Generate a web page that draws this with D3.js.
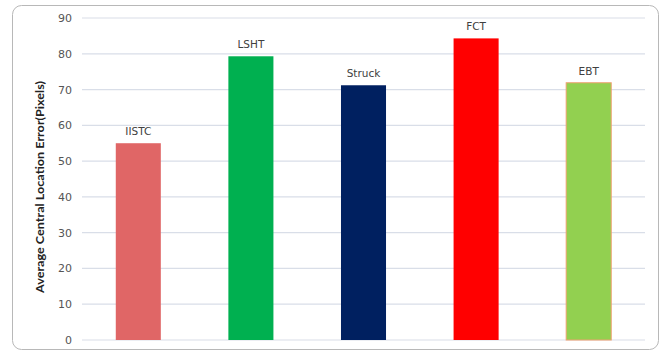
<!DOCTYPE html>
<html><head><meta charset="utf-8">
<script src="https://cdn.jsdelivr.net/npm/d3@7"></script>
<style>body{margin:0;background:#fff}svg{display:block}</style>
</head><body>
<svg id="c" width="669" height="352"></svg>
<script>
const categories = ["IISTC","LSHT","Struck","FCT","EBT"];
const values = [55, 79.3, 71.2, 84.3, 71.9];
const colors = ["#e06666","#00b050","#002060","#ff0000","#92d050"];
const strokes = ["none","none","none","none","#f0a070"];
const yTicks = [0,10,20,30,40,50,60,70,80,90];
const yLabel = "Average Central Location Error(Pixels)";

const svg = d3.select("#c");
svg.append("rect").attr("x",12.5).attr("y",5.5).attr("width",646).attr("height",344)
  .attr("rx",9).attr("fill","#fff").attr("stroke","#b8b8b8").attr("stroke-width",1);

const x = d3.scaleBand().domain(categories).range([82,645]).paddingInner(0.6).paddingOuter(0.3);
const y = d3.scaleLinear().domain([0,90]).range([340,18]);

const g = svg.append("g");
g.selectAll("line.grid").data(yTicks).join("line")
  .attr("x1",82).attr("x2",645).attr("y1",d=>y(d)).attr("y2",d=>y(d))
  .attr("stroke","#d9dee8").attr("stroke-width",1.2);

const ax = svg.append("g").attr("transform","translate(72,0)")
  .call(d3.axisLeft(y).tickValues(yTicks).tickSize(0).tickPadding(0));
ax.select(".domain").remove();
ax.selectAll("text").attr("font-family","DejaVu Sans, Verdana, sans-serif").attr("font-size",11)
  .attr("fill","#555");

g.selectAll("rect.bar").data(values).join("rect")
  .attr("x",(d,i)=>x(categories[i])).attr("width",x.bandwidth())
  .attr("y",d=>y(d)).attr("height",d=>y(0)-y(d))
  .attr("fill",(d,i)=>colors[i]).attr("stroke",(d,i)=>strokes[i]).attr("stroke-width",1);

g.selectAll("text.lbl").data(values).join("text")
  .attr("x",(d,i)=>x(categories[i])+x.bandwidth()/2).attr("y",d=>y(d)-8)
  .attr("text-anchor","middle").attr("font-family","DejaVu Sans, Verdana, sans-serif")
  .attr("font-size",10.5).attr("fill","#404040")
  .text((d,i)=>categories[i]);

svg.append("text").attr("transform","translate(44,187) rotate(-90)")
  .attr("text-anchor","middle").attr("font-family","Lato, 'Open Sans', sans-serif")
  .attr("font-weight","bold").attr("font-size",10.5).attr("fill","#222")
  .attr("textLength",212).attr("lengthAdjust","spacingAndGlyphs")
  .text(yLabel);
</script>
</body></html>
